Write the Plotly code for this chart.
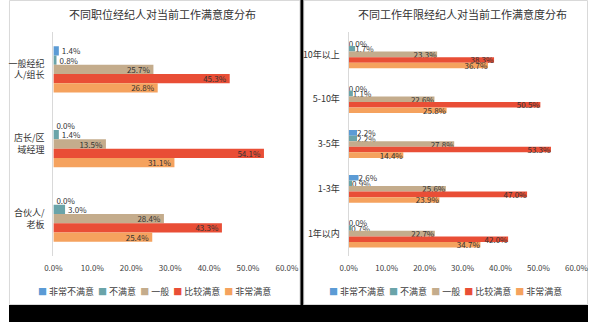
import plotly.graph_objects as go

series = ["非常不满意", "不满意", "一般", "比较满意", "非常满意"]
colors = ["#5B9BD5", "#6AA4A9", "#C4AC8C", "#E94E36", "#F5A25E"]

left_title = "不同职位经纪人对当前工作满意度分布"
left_cats = ["一般经纪<br>人/组长", "店长/区<br>域经理", "合伙人/<br>老板"]
left_very_dis = [1.4, 0.0, 0.0]
left_dis = [0.8, 1.4, 3.0]
left_neutral = [25.7, 13.5, 28.4]
left_sat = [45.3, 54.1, 43.3]
left_very_sat = [26.8, 31.1, 25.4]

right_title = "不同工作年限经纪人对当前工作满意度分布"
right_cats = ["10年以上", "5-10年", "3-5年", "1-3年", "1年以内"]
right_very_dis = [0.0, 0.0, 2.2, 2.6, 0.0]
right_dis = [1.7, 1.1, 2.2, 0.9, 0.7]
right_neutral = [23.3, 22.6, 27.8, 25.6, 22.7]
right_sat = [38.3, 50.5, 53.3, 47.0, 42.0]
right_very_sat = [36.7, 25.8, 14.4, 23.9, 34.7]

tick_vals = [0, 10, 20, 30, 40, 50, 60]
tick_text = ["0.0%", "10.0%", "20.0%", "30.0%", "40.0%", "50.0%", "60.0%"]

FONT = "Noto Sans CJK SC"
TXT = "#333333"
W, H = 600, 322

left_series = [left_very_dis, left_dis, left_neutral, left_sat, left_very_sat]
right_series = [right_very_dis, right_dis, right_neutral, right_sat, right_very_sat]

fig = go.Figure()


def add_panel(cats, data, xa, ya):
    for name, col, vals in zip(series, colors, data):
        pos = ["inside" if v >= 5 else "outside" for v in vals]
        fig.add_trace(go.Bar(
            y=cats, x=vals, name=name, orientation="h",
            marker=dict(color=col, line=dict(width=0)),
            text=[f"{v:.1f}%" for v in vals], textposition=pos,
            insidetextanchor="end", textangle=0, constraintext="none",
            textfont=dict(family=FONT, size=8, color=TXT),
            cliponaxis=False, showlegend=False,
            xaxis=xa, yaxis=ya,
        ))


add_panel(left_cats, left_series, "x", "y")
add_panel(right_cats, right_series, "x2", "y2")

ydom = [1 - 256 / H, 1 - 32 / H]
axis_common = dict(range=[0, 60], tickvals=tick_vals, ticktext=tick_text,
                   showgrid=False, zeroline=False, showline=False, ticks="",
                   tickfont=dict(family=FONT, size=8, color="#404040"),
                   ticklabelstandoff=6, fixedrange=True)
yaxis_common = dict(autorange="reversed", showline=True, linecolor="#D9D9D9",
                    linewidth=1, ticks="", showgrid=False,
                    tickfont=dict(family=FONT, size=9, color=TXT),
                    ticklabelstandoff=6)

fig.update_layout(
    width=W, height=H, margin=dict(l=0, r=0, t=0, b=0),
    paper_bgcolor="white", plot_bgcolor="white",
    barmode="group", bargap=0.38, bargroupgap=0,
    font=dict(family=FONT, color=TXT),
    xaxis=dict(domain=[46 / W, 288 / W], anchor="y", **axis_common),
    yaxis=dict(domain=ydom, anchor="x", **yaxis_common),
    xaxis2=dict(domain=[352 / W, 588 / W], anchor="y2", **axis_common),
    yaxis2=dict(domain=ydom, anchor="x2", **yaxis_common),
    showlegend=False,
)


def legend_text():
    parts = [f'<span style="color:{c}">■</span> {n}' for n, c in zip(series, colors)]
    return "  ".join(parts)


def ann(text, px, py, size, color):
    return dict(text=text, x=px / W, y=1 - py / H, xref="paper", yref="paper",
                xanchor="center", yanchor="middle", showarrow=False,
                font=dict(family=FONT, size=size, color=color))


annotations = [
    ann(left_title, 159, 14, 11, TXT),
    ann(right_title, 470, 14, 11, TXT),
    ann(legend_text(), 151, 291, 9, "#404040"),
    ann(legend_text(), 452, 291, 9, "#404040"),
]
fig.update_layout(annotations=annotations)

shapes = [
    dict(type="rect", xref="paper", yref="paper", x0=0.5 / W, x1=301.5 / W,
         y0=1 - 304.5 / H, y1=1 - 0.5 / H, line=dict(color="#D9D9D9", width=1),
         layer="below"),
    dict(type="rect", xref="paper", yref="paper", x0=305.5 / W, x1=599.5 / W,
         y0=1 - 304.5 / H, y1=1 - 0.5 / H, line=dict(color="#D9D9D9", width=1),
         layer="below"),
    dict(type="rect", xref="paper", yref="paper", x0=302 / W, x1=305 / W,
         y0=0, y1=1, fillcolor="black", line=dict(width=0), layer="above"),
    dict(type="rect", xref="paper", yref="paper", x0=0, x1=1,
         y0=0, y1=17 / H, fillcolor="black", line=dict(width=0), layer="above"),
]
fig.update_layout(shapes=shapes)

fig.write_html("out.html")
